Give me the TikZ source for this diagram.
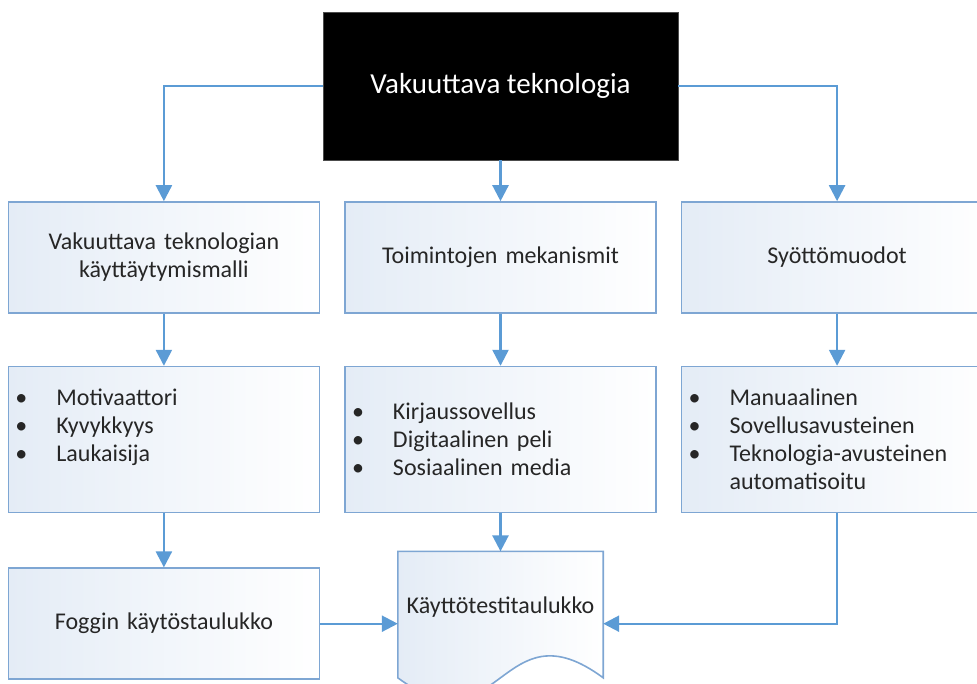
\documentclass[tikz,border=0pt]{standalone}
\usepackage{fontspec}
\setmainfont{Carlito}
\usepackage{xcolor}
\definecolor{linkblue}{HTML}{5B9BD5}
\definecolor{edge}{HTML}{7EA6D3}
\definecolor{boxfill}{HTML}{E4ECF6}
\definecolor{ink}{HTML}{262626}
\usetikzlibrary{
  arrows.meta,
  positioning,
  calc,
  backgrounds
}

\newcommand{\bul}[1]{\makebox[41pt][l]{\textbullet}#1}

\begin{document}
\begin{tikzpicture}[
  box/.style={rectangle, draw=edge, line width=1.6pt, left color=boxfill, right color=white, minimum width=311pt, minimum height=111pt, text width=280pt, align=center, font=\fontsize{24}{28}\selectfont, text=ink},
  list/.style={box, minimum height=146pt, inner xsep=7pt, text width=297pt, align=left},
  head/.style={rectangle, fill=black, draw=black!70, minimum width=355pt, minimum height=148pt, text=white, font=\fontsize{29}{34}\selectfont},
  docbox/.style={rectangle, minimum width=205pt, minimum height=110pt, font=\fontsize{24}{28}\selectfont, text=ink},
  arr/.style={-{Triangle[length=16pt, width=16pt]}, line width=2.4pt, linkblue},
]
\useasboundingbox (0,0) rectangle (977pt,-684pt);

% Top
\node[head] (tech) at (500.5pt,-86pt) {Vakuuttava teknologia};

% 3 branches
\node[box, below=41pt of tech] (mech) {Toimintojen mekanismit};
\node[box, left=24pt of mech] (model) {Vakuuttava teknologian\\käyttäytymismalli};
\node[box, right=24pt of mech] (input) {Syöttömuodot};

% Lists
\node[list, below=52pt of model] (factors) {\bul{Motivaattori}\\\bul{Kyvykkyys}\\\bul{Laukaisija}\\~};
\node[list, below=52pt of mech] (apps) {\bul{Kirjaussovellus}\\\bul{Digitaalinen peli}\\\bul{Sosiaalinen media}};
\node[list, below=52pt of input] (modes) {\bul{Manuaalinen}\\\bul{Sovellusavusteinen}\\\bul{Teknologia-avusteinen}\\\hspace*{41pt}automatisoitu};

% Results
\node[box, below=54pt of factors] (fogg) {Foggin käytöstaulukko};
\node[docbox, below=38pt of apps] (test) {Käyttötestitaulukko};

\begin{scope}[on background layer]
\draw[draw=edge, line width=1.6pt, left color=boxfill, right color=white]
  ($(test.south west)+(0,-16pt)$) -- (test.north west) -- (test.north east)
  -- ($(test.south east)+(0,-16pt)$)
  .. controls ($(test.south)+(0,60pt)$) and ($(test.south)+(0,-92pt)$) .. ($(test.south west)+(0,-16pt)$) -- cycle;
\end{scope}

\draw[arr] (tech.west) -| (model.north);
\draw[arr] (tech) -- (mech);
\draw[arr] (tech.east) -| (input.north);
\draw[arr] (model) -- (factors);
\draw[arr] (mech) -- (apps);
\draw[arr] (input) -- (modes);
\draw[arr] (factors) -- (fogg);
\draw[arr] (apps) -- (test);
\draw[arr] (fogg) -- (fogg -| test.west);
\draw[arr] (modes) |- (fogg -| test.east);

\end{tikzpicture}
\end{document}
